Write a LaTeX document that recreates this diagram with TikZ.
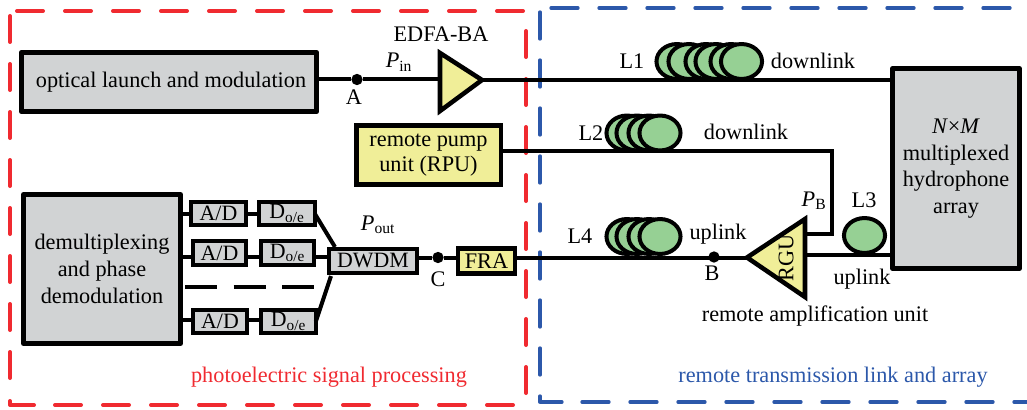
\documentclass[tikz,border=0pt]{standalone}
\usepackage{fontspec}
\setmainfont{Liberation Serif}
\definecolor{boxgray}{RGB}{209,211,212}
\definecolor{boxyellow}{RGB}{240,238,152}
\definecolor{coilgreen}{RGB}{150,208,148}
\definecolor{framered}{RGB}{240,42,48}
\definecolor{frameblue}{RGB}{44,88,170}
\tikzset{
  x=0.75pt,y=-0.75pt,
  every node/.style={inner sep=0pt,outer sep=0pt,font=\fontsize{16.7}{20}\selectfont},
  wire/.style={line width=3pt,line cap=butt},
  grayb/.style={draw=black,line width=3.4pt,fill=boxgray,line join=round,align=center},
  smallb/.style={draw=black,line width=3pt,fill=boxgray,align=center,font=\fontsize{16.4}{20}\selectfont},
  yellowb/.style={draw=black,line width=3.4pt,fill=boxyellow,align=center},
  amp/.style={draw=black,line width=3.4pt,fill=boxyellow,line join=miter},
  coil/.style={draw=black,line width=3pt,fill=coilgreen},
  joint/.style={circle,fill=black,minimum size=8.5pt},
  redframe/.style={draw=framered,line width=3pt,line cap=round,line join=round,dash pattern=on 19.5pt off 16.5pt},
  blueframe/.style={draw=frameblue,line width=2.5pt,line cap=round,line join=round,dash pattern=on 20.25pt off 15.75pt},
  solidred/.style={draw=framered,line width=3pt,line cap=round,line join=round},
  solidblue/.style={draw=frameblue,line width=2.5pt,line cap=round,line join=round},
}
\begin{document}
\begin{tikzpicture}
\useasboundingbox (0,0) rectangle (1027,410);
% frames
\draw[redframe] (17,11) -- (527,11);
\draw[redframe] (10,16) -- (10,382);
\draw[solidred] (10,401) -- (10,405) -- (34,405);
\draw[redframe] (55,405) -- (518,405);
\draw[redframe] (526,31) -- (526,398);
\draw[blueframe] (551,8) -- (1014,8);
\draw[blueframe] (540,12) -- (540,378);
\draw[solidblue] (540,396) -- (540,402) -- (562,402);
\draw[blueframe] (582,402) -- (1030,402);
% boxes
\node[grayb,minimum width=221.6pt,minimum height=44.6pt] (laser) at (169,82) {\hspace*{3pt}optical launch and modulation};
\node[yellowb,minimum width=108.4pt,minimum height=44.6pt,font=\fontsize{16.7}{19}\selectfont] (rpu) at (428.5,155) {remote pump\\unit (RPU)};
\node[grayb,minimum width=118pt,minimum height=112pt,font=\fontsize{16.7}{20.25}\selectfont] (demux) at (102,269) {demultiplexing\\and phase\\demodulation};
\node[grayb,minimum width=95.6pt,minimum height=150pt,font=\fontsize{16.7}{20}\selectfont] (array) at (956,168.5) {\textit{N}×\textit{M}\\multiplexed\\hydrophone\\array};
\node[smallb,minimum width=41pt,minimum height=17.25pt] (ad1) at (218.5,213.5) {A/D};
\node[smallb,minimum width=39.75pt,minimum height=18pt] (ad2) at (219.5,253) {A/D};
\node[smallb,minimum width=40.5pt,minimum height=17.25pt] (ad3) at (220,321.5) {A/D};
\node[smallb,minimum width=41.5pt,minimum height=17.25pt] (do1) at (287,213.5) {D\textsubscript{o/e}};
\node[smallb,minimum width=39.75pt,minimum height=18pt] (do2) at (287.5,253) {D\textsubscript{o/e}};
\node[smallb,minimum width=41pt,minimum height=17.25pt] (do3) at (288.5,321.5) {D\textsubscript{o/e}};
\node[smallb,minimum width=66pt,minimum height=18pt] (dwdm) at (373,261) {DWDM};
\node[yellowb,minimum width=42.5pt,minimum height=19pt] (fra) at (486.5,261) {FRA};
% joints
\node[joint] (A) at (357,79.5) {};
\node[joint] (B) at (714,257) {};
\node[joint] (C) at (438,257.5) {};
% named points
\coordinate (e1) at (440,53);
\coordinate (e2) at (482,80);
\coordinate (e3) at (440,111);
\coordinate (g1) at (747,257.5);
\coordinate (g2) at (805,219);
\coordinate (g3) at (805,297);
\coordinate (tr) at (832,151);
\coordinate (tb) at (832,234);
\coordinate (gin) at (805,234);
\coordinate (gout) at (805,255);
\coordinate (w2) at (0,257);
\coordinate (w3) at (0,320);
\coordinate (w4) at (0,258);
\coordinate (d1) at (335,247);
\coordinate (d3) at (331,276);
\coordinate (dashL) at (185,287);
\coordinate (dashR) at (314,287);
% connectors
\draw[wire] (laser.east|-A) -- (A) -- (A-|e1);
\draw[wire] (e2) -- (array.west|-e2);
\draw[wire] (rpu.east|-tr) -- (tr) -- (tb) -- (gin);
\draw[wire] (fra.east|-w4) -- (g1|-w4);
\draw[wire] (gout) -- (array.west|-gout);
\draw[wire] (dwdm.east|-C) -- (C) -- (fra.west|-C);
\draw[wire] (demux.east|-ad1) -- (ad1.west);
\draw[wire] (ad1.east) -- (do1.west);
\draw[wire] (demux.east|-w2) -- (ad2.west|-w2);
\draw[wire] (ad2.east|-w2) -- (do2.west|-w2);
\draw[wire] (do2.east|-w2) -- (dwdm.west|-w2);
\draw[wire] (demux.east|-w3) -- (ad3.west|-w3);
\draw[wire] (ad3.east|-w3) -- (do3.west|-w3);
\draw[wire] (do1.east) -- (d1);
\draw[wire] (do3.east) -- (d3);
\draw[wire,dash pattern=on 24pt off 12.5pt] (dashL) -- (dashR);
% amplifiers
\draw[amp] (e1) -- (e2) -- (e3) -- cycle;
\draw[amp] (g1) -- (g2) -- (g3) -- cycle;
\node[rotate=90] (rgu) at (786,258) {RGU};
% coils
\foreach \x in {677,689,706,716,731,741.5}{\draw[coil] (\x,61.5) ellipse (15.4pt and 13.1pt);}
\foreach \x in {627,637,649,660}{\draw[coil] (\x,133) ellipse (15.4pt and 13.1pt);}
\foreach \x in {627,637,649,660}{\draw[coil] (\x,236.5) ellipse (15.4pt and 13.1pt);}
\draw[coil] (864.5,235.5) ellipse (15.4pt and 13.1pt);
% labels
\node (l1) at (632,61) {L1};
\node (l2) at (591,133) {L2};
\node (l3) at (864,200) {L3};
\node (l4) at (580,236) {L4};
\node (t1) at (813,61) {downlink};
\node (t2) at (746,132) {downlink};
\node (t3) at (718,234) {uplink};
\node (t4) at (862,279) {uplink};
\node (t5) at (815,316) {remote amplification unit};
\node (ta) at (354,97) {A};
\node (tbb) at (712,273) {B};
\node (tc) at (438,279) {C};
\node (edfa) at (441,34) {EDFA-BA};
\node (pin) at (399,62) {\textit{P}\textsubscript{in}};
\node (pout) at (378,225) {\textit{P}\textsubscript{out}};
\node (pb) at (814,201) {\textit{P}\textsubscript{B}};
\node[text=framered] (cap1) at (329,377) {photoelectric signal processing};
\node[text=frameblue] (cap2) at (833,377) {remote transmission link and array};
\end{tikzpicture}
\end{document}
